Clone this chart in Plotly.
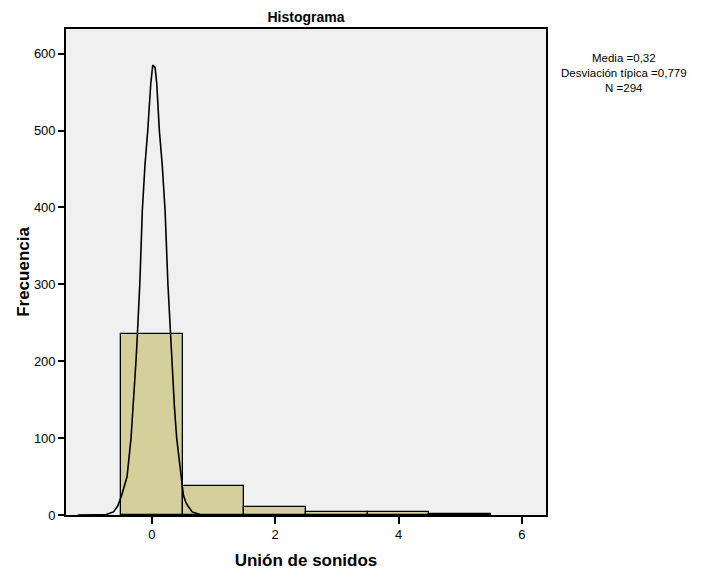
import plotly.graph_objects as go

# Histogram bins (centres, width 1) and counts
bin_centers = [0, 1, 2, 3, 4, 5]
counts = [236, 38, 11, 4, 4, 1]

# Fitted curve as drawn in the reference
curve_x = [-1.2, -0.85, -0.74, -0.62, -0.55, -0.486, -0.44, -0.40, -0.336, -0.30, -0.255,
           -0.232, -0.194, -0.153, -0.11, -0.065, -0.016, 0.016, 0.054, 0.081, 0.123,
           0.17, 0.216, 0.262, 0.30, 0.331, 0.368, 0.404, 0.47, 0.513, 0.55, 0.584,
           0.656, 0.78, 0.9, 1.2]
curve_y = [0, 0.1, 0.5, 4, 12, 26, 38, 50, 100, 140, 201,
           236, 300, 396, 455, 500, 561, 585, 582, 561, 500,
           455, 396, 300, 236, 201, 140, 100, 50, 26, 17, 12,
           4, 0.5, 0.1, 0]

x_ticks = [0, 2, 4, 6]
y_ticks = [0, 100, 200, 300, 400, 500, 600]

stats_text = "Media =0,32<br>Desviación típica =0,779<br>N =294"

FONT = "Liberation Sans, Arial, sans-serif"

# page body has an 8px default margin; shrink the figure so it fits the window
OFFSET = 8
PLOT_L, PLOT_R, PLOT_T, PLOT_B = 66, 546, 29, 515
W, H = 704 - OFFSET, 570 - OFFSET

fig = go.Figure()
fig.add_trace(go.Bar(
    x=bin_centers, y=counts, width=[1] * len(bin_centers),
    marker=dict(color="#d4cf9b", line=dict(color="black", width=1.3)),
    showlegend=False, hoverinfo="x+y",
))
fig.add_trace(go.Scatter(
    x=curve_x, y=curve_y, mode="lines",
    line=dict(color="black", width=1.6, shape="linear"),
    showlegend=False,
))

plot_w = PLOT_R - PLOT_L
plot_h = PLOT_B - PLOT_T

fig.update_layout(
    width=W, height=H,
    margin=dict(l=PLOT_L - OFFSET, r=704 - PLOT_R, t=PLOT_T - OFFSET,
                b=570 - PLOT_B, autoexpand=False),
    paper_bgcolor="white",
    plot_bgcolor="#f0f0f0",
    font=dict(family=FONT, color="black", size=13),
    bargap=0,
    title=dict(text="<b>Histograma</b>", x=0.5, xref="paper", xanchor="center",
               y=1, yref="paper", yanchor="bottom", pad=dict(b=7),
               font=dict(size=14, family=FONT, color="black")),
    xaxis=dict(
        range=[-1.39, 6.39], tickvals=x_ticks, ticktext=[str(v) for v in x_ticks],
        showgrid=False, zeroline=False, ticks="outside", ticklen=7, tickwidth=1.5,
        tickcolor="black", showline=True, linecolor="black", linewidth=1.6, mirror=True,
        tickfont=dict(size=13, family=FONT), automargin=False,
        title=dict(text="<b>Unión de sonidos</b>", font=dict(size=17, family=FONT), standoff=18),
    ),
    yaxis=dict(
        range=[0, 632], tickvals=y_ticks, ticktext=[str(v) for v in y_ticks],
        showgrid=False, zeroline=False, ticks="outside", ticklen=6, tickwidth=1.5,
        tickcolor="black", showline=True, linecolor="black", linewidth=1.6, mirror=True,
        tickfont=dict(size=13, family=FONT), automargin=False,
        title=dict(text="<b>Frecuencia</b>", font=dict(size=17, family=FONT), standoff=0),
    ),
    annotations=[dict(
        text=stats_text, xref="paper", yref="paper",
        x=(624 - PLOT_L) / plot_w, y=(PLOT_B - 73) / plot_h,
        xanchor="center", yanchor="middle", showarrow=False, align="center",
        font=dict(size=11.5, family=FONT, color="black"),
    )],
)

fig.write_html("out.html")
